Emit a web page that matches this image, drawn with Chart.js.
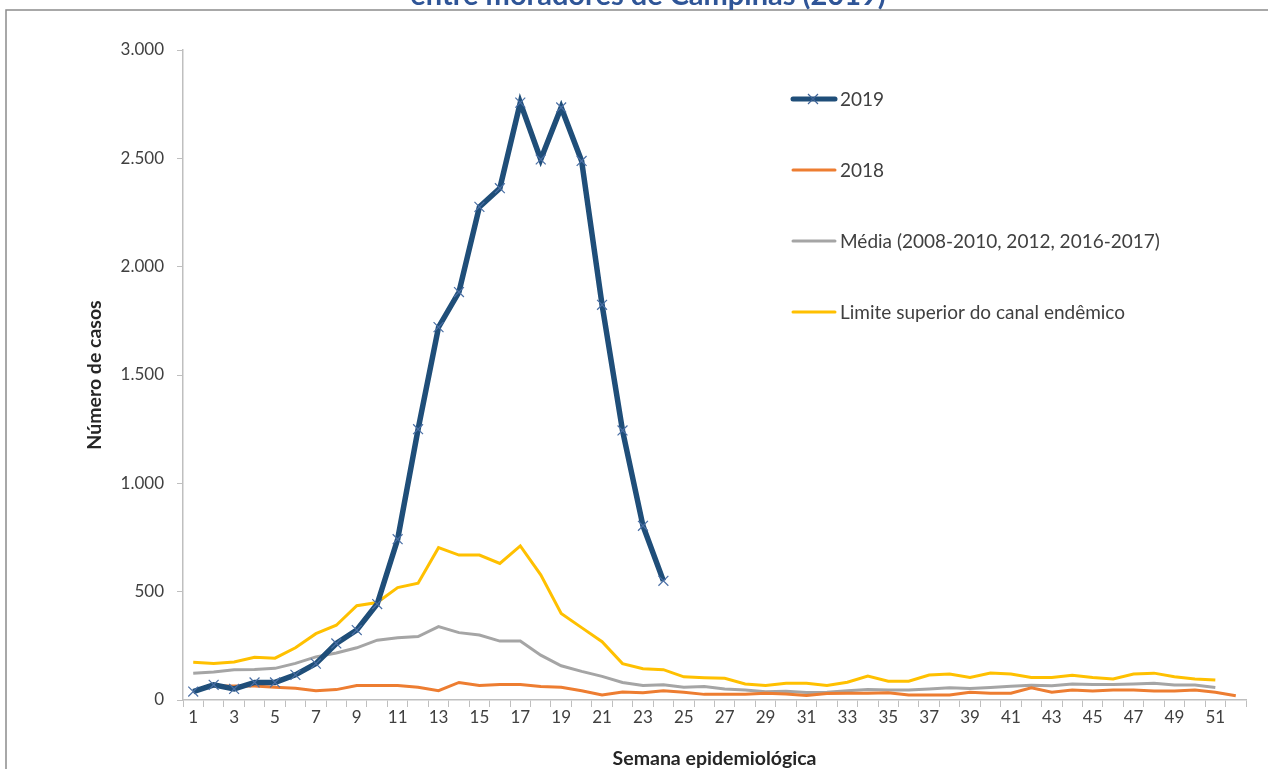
<!DOCTYPE html>
<html>
<head>
  <title>Casos por semana epidemiológica - Campinas 2019</title>
  <script src="https://cdn.jsdelivr.net/npm/chart.js"></script>
</head>
<body style="margin:0;background:#fff;overflow:hidden;">
  <canvas id="chart" width="1268" height="769"></canvas>

  <script>
    // semanas epidemiológicas 1..52
    const semanas = Array.from({ length: 52 }, (_, i) => String(i + 1));

    const casos2019 = [39, 70, 51, 81, 81, 116, 168, 261, 323, 443, 742, 1250, 1721, 1883,
      2276, 2362, 2757, 2495, 2735, 2488, 1824, 1244, 804, 550];

    const casos2018 = [39, 65, 65, 65, 59, 54, 43, 48, 67, 67, 67, 59, 43, 81, 67, 71, 71, 62,
      59, 43, 23, 37, 33, 43, 36, 26, 26, 26, 31, 28, 21, 30, 31, 31, 33, 23, 23, 23, 36, 31,
      31, 56, 36, 46, 41, 46, 46, 41, 41, 46, 36, 20];

    const media = [124, 129, 140, 141, 146, 169, 199, 217, 241, 276, 287, 293, 339, 311, 300,
      272, 272, 207, 158, 132, 109, 81, 67, 70, 59, 62, 51, 46, 38, 40, 35, 36, 43, 48, 46, 46,
      51, 56, 53, 58, 63, 68, 66, 74, 71, 71, 74, 77, 69, 69, 58];

    const limite = [174, 169, 175, 197, 193, 241, 306, 345, 435, 450, 519, 539, 703, 669, 669,
      630, 711, 578, 399, 334, 269, 168, 144, 140, 107, 103, 100, 74, 67, 77, 77, 67, 82, 110,
      87, 87, 115, 120, 104, 125, 120, 104, 104, 114, 104, 97, 120, 124, 107, 97, 92];

    const titulo = "entre moradores de Campinas (2019)";
    const FONT = "Lato, 'Open Sans', sans-serif";

    const legenda = [
      { text: "2019", color: "#1F4E79", width: 5, marker: true },
      { text: "2018", color: "#ED7D31", width: 3 },
      { text: "Média (2008-2010, 2012, 2016-2017)", color: "#A5A5A5", width: 3 },
      { text: "Limite superior do canal endêmico", color: "#FFC000", width: 3 }
    ];

    function milhar(v) {
      return String(v).replace(/\B(?=(\d{3})+(?!\d))/g, ".");
    }

    // moldura + título cortado no topo
    const moldura = {
      id: "moldura",
      beforeDraw(chart) {
        const c = chart.ctx;
        c.save();
        c.fillStyle = "#fff";
        c.fillRect(0, 0, chart.width, chart.height);
        c.strokeStyle = "#8c8c8c";
        c.lineWidth = 1.5;
        c.beginPath();
        c.moveTo(6, chart.height + 2);
        c.lineTo(6, 10);
        c.lineTo(chart.width + 2, 10);
        c.stroke();
        c.font = "bold 29px " + FONT;
        c.fillStyle = "#2F5597";
        c.textAlign = "center";
        c.textBaseline = "alphabetic";
        c.fillText(titulo, 648, 5);
        c.restore();
      }
    };

    const legendaPlugin = {
      id: "legendaPlugin",
      afterDraw(chart) {
        const c = chart.ctx;
        c.save();
        legenda.forEach((item, i) => {
          const y = 99 + i * 71;
          c.strokeStyle = item.color;
          c.lineWidth = item.width;
          c.lineCap = "round";
          c.beginPath();
          c.moveTo(793, y);
          c.lineTo(835, y);
          c.stroke();
          if (item.marker) {
            c.strokeStyle = "#3F6397";
            c.lineWidth = 1.2;
            c.lineCap = "butt";
            c.beginPath();
            c.moveTo(808, y - 5); c.lineTo(818, y + 5);
            c.moveTo(818, y - 5); c.lineTo(808, y + 5);
            c.stroke();
          }
          c.font = "19px " + FONT;
          c.fillStyle = "#404040";
          c.textAlign = "left";
          c.textBaseline = "middle";
          c.fillText(item.text, 840, y + 1);
        });
        c.restore();
      }
    };

    const ctx = document.getElementById("chart").getContext("2d");
    new Chart(ctx, {
      type: "line",
      data: {
        labels: semanas,
        datasets: [
          {
            label: "2019",
            data: casos2019,
            borderColor: "#1F4E79",
            borderWidth: 5.5,
            pointStyle: "crossRot",
            pointRadius: 7,
            pointBorderColor: "#4A6FA5",
            pointBorderWidth: 1.2,
            tension: 0
          },
          { label: "2018", data: casos2018, borderColor: "#ED7D31", borderWidth: 3, pointRadius: 0, tension: 0 },
          { label: "Média (2008-2010, 2012, 2016-2017)", data: media, borderColor: "#A5A5A5", borderWidth: 3, pointRadius: 0, tension: 0 },
          { label: "Limite superior do canal endêmico", data: limite, borderColor: "#FFC000", borderWidth: 3, pointRadius: 0, tension: 0 }
        ]
      },
      options: {
        responsive: false,
        animation: false,
        layout: { padding: { top: 50, right: 22, left: 0, bottom: 0 } },
        plugins: { legend: { display: false }, tooltip: { enabled: false } },
        scales: {
          x: {
            offset: true,
            grid: { offset: true, drawOnChartArea: false, tickLength: 7, color: "#BFBFBF" },
            border: { color: "#BFBFBF", width: 1.5 },
            ticks: {
              autoSkip: false,
              maxRotation: 0,
              padding: 0,
              color: "#404040",
              font: { family: FONT, size: 17 },
              callback: (v, i) => (i % 2 === 0 ? semanas[i] : "")
            },
            title: {
              display: true,
              text: "Semana epidemiológica",
              color: "#262626",
              font: { family: FONT, size: 19.5, weight: "bold" },
              padding: { top: 0, bottom: -1 }
            },
            afterFit: (s) => { s.height = 69; }
          },
          y: {
            min: 0,
            max: 3000,
            grid: { drawOnChartArea: false, tickLength: 6, color: "#BFBFBF" },
            border: { color: "#BFBFBF", width: 1.5 },
            ticks: {
              stepSize: 500,
              padding: 13,
              color: "#404040",
              font: { family: FONT, size: 17 },
              callback: (v) => milhar(v)
            },
            title: {
              display: true,
              text: "Número de casos",
              color: "#262626",
              font: { family: FONT, size: 19.5, weight: "bold" },
              padding: { top: 83, bottom: 0 }
            },
            afterFit: (s) => { s.width = 183; }
          }
        }
      },
      plugins: [moldura, legendaPlugin]
    });
  </script>
</body>
</html>
